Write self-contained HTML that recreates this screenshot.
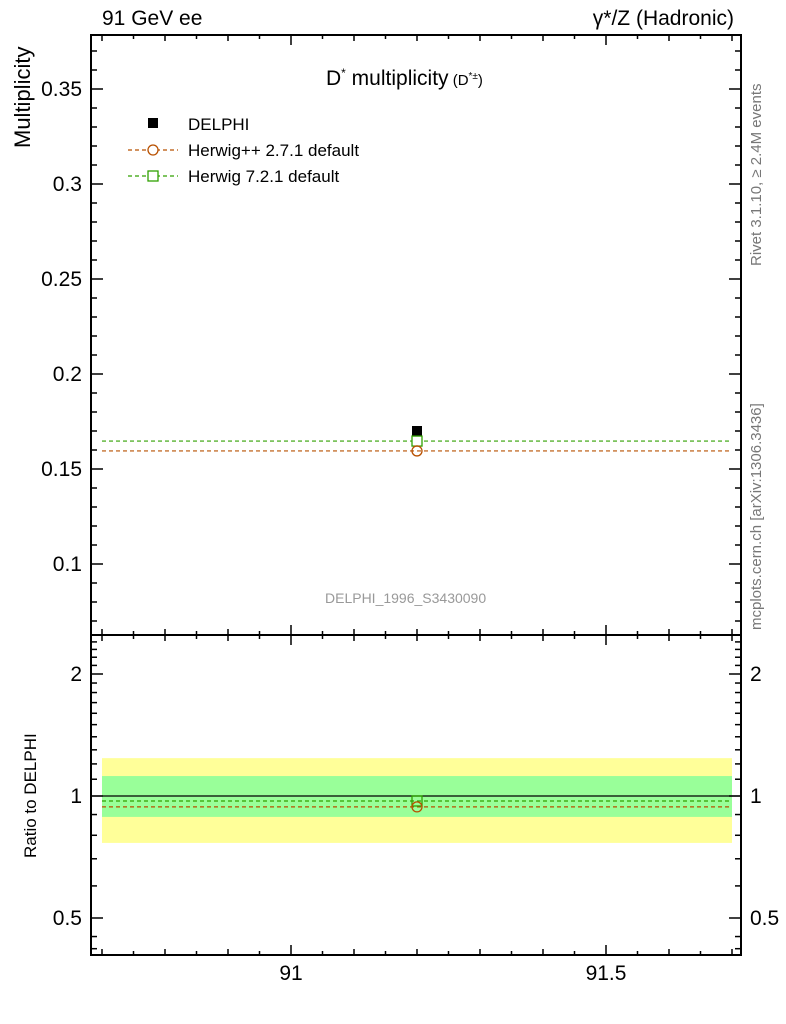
<!DOCTYPE html>
<html><head><meta charset="utf-8"><style>
body{margin:0;background:#fff;}
svg{display:block;font-family:"Liberation Sans",sans-serif;}
</style></head><body>
<svg id="c" width="786" height="1024"></svg>
<script>
const xCategories=[91.2];
const dataValues=[0.170];
const herwigPPValues=[0.1595];
const herwig7Values=[0.1647];
const ratioPP=[0.94];
const ratio7=[0.972];
const bandInner=[0.888,1.12];
const bandOuter=[0.766,1.24];
const mainTicks=[0.1,0.15,0.2,0.25,0.3,0.35];
const ratioTicks=[0.5,1,2];
const xTicks=[91,91.5];
const xRange=[90.7,91.7];

const L=91,R=741,T=35,MB=635,RB=955;
const sx=v=>291+(v-91)*630;
const sy=v=>89+(0.35-v)*1900;
const sr=v=>796-Math.log2(v)*122;
const svg=document.getElementById('c');
const NS='http://www.w3.org/2000/svg';
function mk(t,a,txt){const e=document.createElementNS(NS,t);for(const k in a)e.setAttribute(k,a[k]);if(txt!==undefined)e.textContent=txt;svg.appendChild(e);return e;}

let e;
e=mk('rect',{x:sx(xRange[0]),y:sr(bandOuter[1]),width:sx(xRange[1])-sx(xRange[0]),height:sr(bandOuter[0])-sr(bandOuter[1]),fill:'#ffff99'});

e=mk('rect',{x:sx(xRange[0]),y:sr(bandInner[1]),width:sx(xRange[1])-sx(xRange[0]),height:sr(bandInner[0])-sr(bandInner[1]),fill:'#99ff99'});

e=mk('line',{x1:L,x2:R,y1:sr(1),y2:sr(1),stroke:'#000','stroke-width':1.2});


e=mk('rect',{x:L,y:T,width:R-L,height:MB-T,fill:'none',stroke:'#000','stroke-width':2});

e=mk('rect',{x:L,y:MB,width:R-L,height:RB-MB,fill:'none',stroke:'#000','stroke-width':2});


for(let i=0;i<=20;i++){const v=90.7+i*0.05;const x=sx(v);if(x<L||x>R)continue;
 const maj=Math.abs(v-91)<1e-6||Math.abs(v-91.5)<1e-6;const len=maj?10:(i%2==0?6:4);
 [[T,1],[MB,1],[MB,-1],[RB,-1]].forEach(([y,d])=>{const t=mk('line',{x1:x,x2:x,y1:y,y2:y+d*len,stroke:'#000','stroke-width':1.5});});}
xTicks.forEach(v=>{const t=mk('text',{x:sx(v),y:980,'text-anchor':'middle','font-size':21},String(v));});

for(let v=0.07;v<=0.375;v+=0.01){const y=sy(v);const maj=Math.abs((v*100)%5)<0.01||Math.abs((v*100)%5-5)<0.01;const len=maj?12:6;
 [[L,1],[R,-1]].forEach(([x,d])=>{const t=mk('line',{x1:x,x2:x+d*len,y1:y,y2:y,stroke:'#000','stroke-width':1.5});});}
mainTicks.forEach(v=>{const t=mk('text',{x:82,y:sy(v)+7,'text-anchor':'end','font-size':21},String(v));});

const rminor=[0.5,0.6,0.7,0.8,0.9,1,1.1,1.2,1.3,1.4,1.5,1.6,1.7,1.8,1.9,2,2.1,2.2,2.3,2.4,2.5,0.45,0.42];
rminor.forEach(v=>{const y=sr(v);if(y<MB||y>RB)return;const maj=ratioTicks.includes(v);const len=maj?12:6;
 [[L,1],[R,-1]].forEach(([x,d])=>{const t=mk('line',{x1:x,x2:x+d*len,y1:y,y2:y,stroke:'#000','stroke-width':1.5});});});
ratioTicks.forEach(v=>{[[82,'end'],[750,'start']].forEach(([x,a])=>{const t=mk('text',{x:x,y:sr(v)+7,'text-anchor':a,'font-size':21},String(v));});});

e=mk('line',{x1:sx(xRange[0]),x2:sx(xRange[1]),y1:sy(herwigPPValues[0]),y2:sy(herwigPPValues[0]),stroke:'#b85000','stroke-width':1.2,'stroke-dasharray':'4,3'});

e=mk('line',{x1:sx(xRange[0]),x2:sx(xRange[1]),y1:sy(herwig7Values[0]),y2:sy(herwig7Values[0]),stroke:'#30a000','stroke-width':1.2,'stroke-dasharray':'4,3'});

xCategories.forEach((c,i)=>{
 let p=mk('rect',{x:sx(c)-5,y:sy(dataValues[i])-5,width:10,height:10,fill:'#000'});
 p=mk('rect',{x:sx(c)-5,y:sy(herwig7Values[i])-5,width:10,height:10,fill:'#fff',stroke:'#30a000','stroke-width':1.3});
 p=mk('circle',{cx:sx(c),cy:sy(herwigPPValues[i]),r:5,fill:'none',stroke:'#b85000','stroke-width':1.3});
 p=mk('line',{x1:sx(xRange[0]),x2:sx(xRange[1]),y1:sr(ratio7[i]),y2:sr(ratio7[i]),stroke:'#30a000','stroke-width':1.2,'stroke-dasharray':'4,3'});
 p=mk('line',{x1:sx(xRange[0]),x2:sx(xRange[1]),y1:sr(ratioPP[i]),y2:sr(ratioPP[i]),stroke:'#b85000','stroke-width':1.2,'stroke-dasharray':'4,3'});
 p=mk('rect',{x:sx(c)-5,y:sr(ratio7[i])-5,width:10,height:10,fill:'none',stroke:'#30a000','stroke-width':1.3});
 p=mk('circle',{cx:sx(c),cy:sr(ratioPP[i]),r:5,fill:'none',stroke:'#b85000','stroke-width':1.3});
});

e=mk('rect',{x:148,y:118,width:10,height:10,fill:'#000'});
e=mk('text',{x:188,y:130,'font-size':17},'DELPHI');
e=mk('line',{x1:128,x2:178,y1:150,y2:150,stroke:'#b85000','stroke-dasharray':'4,3','stroke-width':1.2});
e=mk('circle',{cx:153,cy:150,r:5,fill:'#fff',stroke:'#b85000','stroke-width':1.3});
e=mk('text',{x:188,y:156,'font-size':17},'Herwig++ 2.7.1 default');
e=mk('line',{x1:128,x2:178,y1:176,y2:176,stroke:'#30a000','stroke-dasharray':'4,3','stroke-width':1.2});
e=mk('rect',{x:148,y:171,width:10,height:10,fill:'#fff',stroke:'#30a000','stroke-width':1.3});
e=mk('text',{x:188,y:182,'font-size':17},'Herwig 7.2.1 default');
</script>
<div style="position:absolute;left:0;top:0;width:786px;height:1024px;pointer-events:none;font-family:'Liberation Sans',sans-serif;">
<div style="position:absolute;left:102px;top:7px;font-size:21px;">91 GeV ee</div>
<div style="position:absolute;right:52px;top:7px;font-size:21px;">γ*/Z (Hadronic)</div>
<div style="position:absolute;left:326px;top:66px;font-size:21px;white-space:nowrap;">D<sup style="font-size:12px">*</sup> multiplicity<span style="font-size:15px"> (D<sup style="font-size:10px">*±</sup>)</span></div>
<div style="position:absolute;left:11px;top:148px;font-size:22px;line-height:24px;transform:rotate(-90deg);transform-origin:0 0;white-space:nowrap;">Multiplicity</div>
<div style="position:absolute;left:21px;top:858px;font-size:17px;line-height:19px;transform:rotate(-90deg);transform-origin:0 0;white-space:nowrap;">Ratio to DELPHI</div>
<div style="position:absolute;left:325px;top:590px;font-size:14px;color:#999;">DELPHI_1996_S3430090</div>
<div style="position:absolute;left:748px;top:266px;font-size:15px;color:#777;transform:rotate(-90deg);transform-origin:0 0;white-space:nowrap;">Rivet 3.1.10, ≥ 2.4M events</div>
<div style="position:absolute;left:748px;top:630px;font-size:15px;color:#777;transform:rotate(-90deg);transform-origin:0 0;white-space:nowrap;">mcplots.cern.ch [arXiv:1306.3436]</div>
</div>
</body></html>
